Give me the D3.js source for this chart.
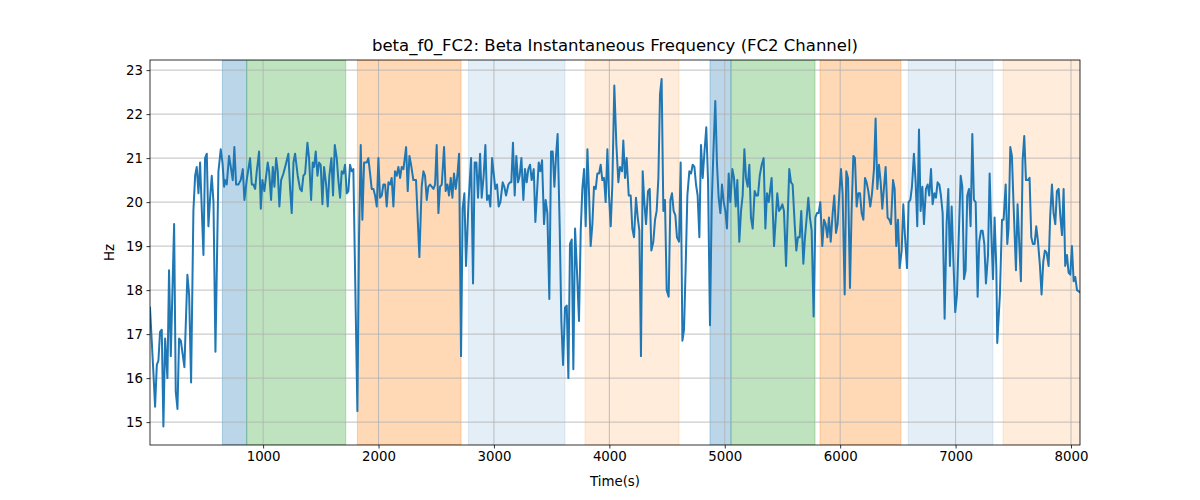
<!DOCTYPE html>
<html>
<head>
<meta charset="utf-8">
<script src="https://cdn.jsdelivr.net/npm/d3@7"></script>
<style>
  body { margin: 0; background: #fff; }
  svg { display: block; font-family: "DejaVu Sans", sans-serif; }
</style>
</head>
<body>
<svg id="chart" width="1200" height="500"></svg>
<script>
const titleText = "beta_f0_FC2: Beta Instantaneous Frequency (FC2 Channel)";
const xLabel = "Time(s)";
const yLabel = "Hz";
const xTicks = [1000, 2000, 3000, 4000, 5000, 6000, 7000, 8000];
const yTicks = [15, 16, 17, 18, 19, 20, 21, 22, 23];

const times = [
20,50,64,79,93,107,122,136,151,171,185,200,229,243,258,272,287,318,344,359,376,396,411,425,440,454,483,497,512,526,541,555,570,587,613,633,648,662,671,685,705,723,737,751,766,786,806,824,838,858,887,902,916,931,945,965,980,994,1011,1040,1052,1069,1084,1098,1113,1127,1141,1156,1176,1196,1219,1234,1248,1263,1277,1300,1320,
1335,1349,1364,1384,1398,1416,1430,1442,1456,1471,1485,1499,1514,1528,1546,1560,1574,1592,1606,1621,1638,1652,1667,1681,1696,1710,1725,1739,1753,1768,1782,1800,1817,1831,1846,1860,1875,1898,1912,1927,1941,1956,1970,1985,1999,2013,2028,2042,2057,2071,2086,2100,2114,2129,2143,2158,2172,2187,2201,2216,2239,2253,2268,2282,2302,2325,2354,2374,2389,2403,2418,2432,2447,2461,2476,2490,2504,2519,2533,2548,2568,2582,2597,2611,2626,2640,2654,2669,2683,2698,
2715,2729,2744,2758,2779,2802,2819,2833,2848,2862,2880,2894,2911,2926,2940,2955,2969,2984,2998,3012,3027,3041,3056,3076,3090,3105,3125,3139,3151,3165,3180,3194,3209,3223,3238,3255,3269,3284,3298,3313,3327,3345,3359,3373,3388,3402,3417,3434,3448,3463,3480,3495,3509,3524,3538,3552,3570,3584,3599,3616,3631,3645,3659,3674,3688,3703,3720,3737,3752,3766,3781,3795,3810,3824,3838,3853,3867,3882,3896,3911,3925,3939,3954,3968,3983,3997,4012,4026,4043,
4061,4078,4092,4110,4121,4136,4150,4168,4185,4199,4214,4231,4246,4260,4274,4289,4303,4318,4335,4350,4364,4381,4396,4410,4425,4439,4453,4468,4482,4497,4514,4529,4543,4557,4572,4586,4604,4618,4633,4647,4661,4676,4693,4708,4722,4737,4751,4765,4780,4794,4809,4823,4840,4855,4872,4887,4901,4918,4933,4947,4962,4976,4991,5005,5019,5034,5048,5066,5080,5095,5109,5126,5141,5155,5170,5184,5199,5213,5227,5242,5259,5274,5288,5303,5320,5337,5352,5366,5381,
5406,5427,5455,5470,5484,5499,5513,5531,5559,5574,5588,5606,5620,5634,5649,5663,5681,5695,5710,5724,5738,5753,5770,5785,5799,5813,5828,5845,5860,5874,5889,5903,5918,5935,5949,5964,5978,5993,6007,6021,6039,6053,6068,6085,6099,6114,6128,6143,6157,6172,6186,6201,6215,6229,6244,6261,6276,6293,6307,6322,6336,6351,6365,6380,6394,6411,6426,6440,6458,6472,6486,6501,6515,6533,6547,6561,6579,6593,6608,6622,6639,6654,6668,6683,6697,6712,6726,
6743,6758,6772,6787,6801,6816,6830,6844,6859,6873,6888,6905,6922,6937,6951,6966,6980,6997,7012,7026,7044,7058,7073,7087,7101,7116,7130,7145,7159,7174,7191,7205,7220,7234,7249,7263,7281,7295,7309,7324,7338,7353,7361,7384,7402,7416,7434,7448,7459,7474,7488,7503,7523,7537,7552,7566,7581,7595,7610,7627,7641,7656,7670,7685,7699,7714,7731,7745,7760,7774,7789,7806,7820,7835,7849,7864,7878,7893,7907,7922,7936,7950,7965,7979,7994,8008,8023,8037,8052,8078
];

const values = [
17.6,16.1,15.35,16.3,16.4,17.05,17.1,14.9,16.9,16.0,18.45,16.5,19.5,15.7,15.3,16.9,16.85,16.25,18.35,17.9,15.9,19.8,20.6,20.8,20.2,20.9,18.8,21.0,21.1,19.45,20.1,20.6,20.0,16.6,20.7,21.2,20.9,20.35,20.5,20.4,21.05,20.75,20.5,21.25,20.4,20.4,20.5,20.75,20.05,20.5,21.0,20.4,20.4,20.3,20.7,21.15,19.85,20.5,20.25,20.9,20.7,20.05,20.8,20.35,21.0,20.7,19.9,20.5,20.65,20.85,21.1,20.3,19.75,20.9,21.1,20.6,20.3,
20.25,20.6,20.65,21.35,21.0,20.05,20.9,20.8,21.15,20.6,20.9,20.85,19.95,20.8,20.4,19.9,20.6,21.0,20.15,21.3,21.0,20.5,20.1,20.7,20.65,20.85,20.2,20.25,20.85,20.7,20.75,17.9,15.25,19.2,21.3,19.6,20.9,20.9,21.0,20.65,20.3,20.3,20.15,19.9,21.0,20.1,20.15,20.4,20.4,19.9,20.45,20.4,20.55,19.9,20.7,20.6,20.8,20.55,20.8,20.75,21.25,20.25,21.05,20.85,20.5,20.5,18.75,20.35,20.7,20.6,20.05,20.35,20.4,20.35,20.3,20.4,21.3,19.75,20.35,20.4,21.25,20.25,20.4,20.15,20.55,20.1,20.65,20.3,20.6,21.1,
16.5,19.85,20.2,18.55,19.95,21.0,18.15,20.9,20.9,20.1,21.1,20.1,20.6,21.3,20.05,20.15,19.9,21.0,20.65,20.3,20.4,19.9,20.0,20.45,20.35,20.15,20.4,20.45,20.45,21.35,20.15,21.05,20.45,20.6,21.0,20.05,20.75,20.45,20.75,20.85,20.5,20.75,19.55,20.2,20.9,20.7,20.95,19.5,20.05,19.75,17.8,21.15,21.15,20.35,21.05,21.55,19.4,17.3,16.3,17.6,17.65,16.0,19.05,19.15,16.2,19.4,18.4,17.3,19.35,20.3,20.75,19.45,21.2,20.2,19.0,19.5,20.35,20.3,20.65,20.65,20.85,20.5,20.55,20.0,21.2,20.15,19.45,20.4,22.65,
21.3,20.45,20.8,20.7,21.4,20.55,21.0,20.15,20.15,19.4,19.2,20.1,19.65,19.35,16.5,20.7,20.0,19.5,20.25,20.3,18.9,19.1,19.6,19.8,20.55,22.45,22.8,19.8,20.05,18.0,17.85,20.05,20.2,19.8,19.7,19.2,19.1,20.9,16.85,17.1,18.5,20.15,20.7,20.65,20.85,20.8,20.4,20.15,19.2,21.3,20.55,21.1,21.7,20.5,17.2,19.95,21.1,22.3,20.85,20.1,19.75,20.4,20.0,19.8,19.4,20.65,20.0,20.75,20.55,19.9,20.5,19.1,19.8,20.15,21.2,20.55,20.35,20.85,19.65,19.4,20.25,20.15,20.15,20.6,20.85,21.0,19.4,20.2,20.0,
20.55,19.0,20.2,19.8,19.85,19.95,19.8,18.55,20.75,20.45,20.4,19.5,18.9,19.2,19.2,19.8,18.6,19.2,19.65,20.1,19.65,19.35,17.4,19.65,19.75,19.75,20.0,19.0,19.6,19.5,19.2,19.65,19.1,19.75,20.15,19.3,19.5,20.2,20.75,20.2,17.9,20.7,20.55,18.05,19.8,21.05,21.0,19.9,20.2,20.2,19.75,19.6,20.55,20.45,20.25,19.9,20.2,20.75,21.9,20.3,20.85,20.45,19.85,20.35,20.8,19.65,19.6,19.5,20.5,20.3,19.0,19.6,18.5,18.9,19.95,19.25,18.5,20.0,20.05,20.35,21.1,20.45,19.45,21.65,19.8,20.35,19.5,
20.3,20.4,20.15,20.75,19.95,20.2,20.1,20.45,20.4,20.15,19.75,17.35,19.5,20.3,18.55,19.9,18.75,17.5,17.9,19.1,20.6,20.35,18.25,18.45,20.15,20.3,19.45,21.55,20.05,20.0,17.85,19.1,19.35,19.35,19.05,18.15,18.8,20.65,19.35,18.25,19.65,18.5,16.8,17.9,19.6,19.6,20.4,19.05,19.4,21.25,21.05,19.9,18.45,19.95,19.05,18.2,20.95,21.5,20.5,20.5,20.55,19.2,19.05,19.05,19.45,19.1,18.55,17.9,18.65,18.9,18.85,18.55,19.7,20.4,19.75,19.5,20.25,20.3,19.7,19.25,20.3,18.55,18.8,18.4,18.35,19.0,18.2,18.3,18.0,17.95
];

const bandStarts = [647, 858, 1817, 2779, 3789, 4872, 5054, 5825, 6590, 7411];
const bandEnds   = [858, 1716, 2715, 3616, 4604, 5054, 5782, 6526, 7324, 8078];
const bandColors = ["#1f77b4", "#2ca02c", "#ff7f0e", "#1f77b4", "#ff7f0e", "#1f77b4", "#2ca02c", "#ff7f0e", "#1f77b4", "#ff7f0e"];
const bandAlphas = [0.3, 0.3, 0.3, 0.12, 0.15, 0.3, 0.3, 0.3, 0.12, 0.15];

const margin = {left: 150, right: 120, top: 60, bottom: 55};
const W = 1200, H = 500;
const iw = W - margin.left - margin.right;
const ih = H - margin.top - margin.bottom;

const svg = d3.select("#chart");
const g = svg.append("g").attr("transform", `translate(${margin.left},${margin.top})`);

const x = d3.scaleLinear().domain([20, 8078]).range([0, iw]);
const y = d3.scaleLinear().domain([14.48, 23.23]).range([ih, 0]);

g.append("defs").append("clipPath").attr("id", "clip")
  .append("rect").attr("width", iw).attr("height", ih);

// bands
const bands = bandStarts.map((s, i) => ({s, e: bandEnds[i], c: bandColors[i], a: bandAlphas[i]}));
g.append("g").attr("clip-path", "url(#clip)").selectAll("rect").data(bands).join("rect")
  .attr("x", d => x(d.s)).attr("width", d => x(d.e) - x(d.s))
  .attr("y", 0).attr("height", ih)
  .attr("fill", d => d.c).attr("fill-opacity", d => d.a)
  .attr("stroke", d => d.c).attr("stroke-opacity", d => d.a).attr("stroke-width", 1);

// grid
g.append("g").selectAll("line").data(xTicks).join("line")
  .attr("x1", d => x(d)).attr("x2", d => x(d)).attr("y1", 0).attr("y2", ih)
  .attr("stroke", "#b0b0b0").attr("stroke-width", 0.8);
g.append("g").selectAll("line").data(yTicks).join("line")
  .attr("y1", d => y(d)).attr("y2", d => y(d)).attr("x1", 0).attr("x2", iw)
  .attr("stroke", "#b0b0b0").attr("stroke-width", 0.8);

// line
const line = d3.line().x((d, i) => x(times[i])).y(d => y(d));
g.append("path").attr("clip-path", "url(#clip)").datum(values)
  .attr("d", line).attr("fill", "none").attr("stroke", "#1f77b4")
  .attr("stroke-width", 2).attr("stroke-linejoin", "round").attr("stroke-linecap", "square");

// axes
const xAxis = d3.axisBottom(x).tickValues(xTicks).tickSize(3.5).tickPadding(3.5).tickFormat(d3.format("d"));
const yAxis = d3.axisLeft(y).tickValues(yTicks).tickSize(3.5).tickPadding(3.5).tickFormat(d3.format("d"));
const gx = g.append("g").attr("transform", `translate(0,${ih})`).call(xAxis);
const gy = g.append("g").call(yAxis);
[gx, gy].forEach(a => {
  a.select(".domain").remove();
  a.selectAll("text").attr("font-size", "13.33px").attr("fill", "#000").attr("font-family", "DejaVu Sans, sans-serif");
  a.selectAll("line").attr("stroke", "#000").attr("stroke-width", 0.8);
});

g.append("rect").attr("width", iw).attr("height", ih).attr("fill", "none")
  .attr("stroke", "#000").attr("stroke-width", 0.8);

svg.append("text").attr("x", margin.left + iw / 2).attr("y", 51)
  .attr("text-anchor", "middle").attr("font-size", "16.5px").text(titleText);
svg.append("text").attr("x", margin.left + iw / 2).attr("y", 486)
  .attr("text-anchor", "middle").attr("font-size", "13.33px").text(xLabel);
svg.append("text").attr("transform", `translate(114,${margin.top + ih / 2}) rotate(-90)`)
  .attr("text-anchor", "middle").attr("font-size", "13.33px").text(yLabel);
</script>
</body>
</html>
